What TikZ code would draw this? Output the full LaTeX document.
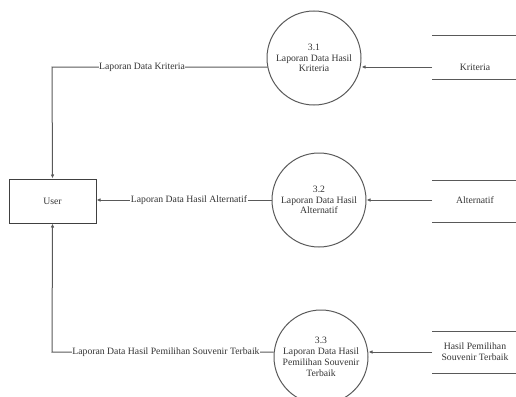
\documentclass[tikz,border=0pt]{standalone}
\usepackage{fontspec}
\setmainfont{Liberation Serif}
\usetikzlibrary{arrows.meta}
\begin{document}
\begin{tikzpicture}[x=1pt,y=-1pt,
  every node/.style={font=\fontsize{9.7}{10.8}\selectfont, text=black!80},
  proc/.style={circle, draw=black!65, line width=1pt, minimum size=94pt, inner sep=0pt, align=center},
  ent/.style={rectangle, draw=black!75, line width=1pt, minimum width=87pt, minimum height=44pt},
  flow/.style={draw=black!65, line width=1pt, -{Latex[length=4pt,width=3.5pt]}},
  lbl/.style={fill=white, inner sep=0.5pt},
  storeline/.style={draw=black!65, line width=1pt}]
\useasboundingbox (0,0) rectangle (516,396);
\begin{scope}
\clip (0,0) rectangle (516,396);
\node[ent] (user) at (52.5,201) {User};
\node[proc] (p1) at (314,58) {3.1\\Laporan Data Hasil\\Kriteria};
\node[proc] (p2) at (319,200) {3.2\\Laporan Data Hasil\\Alternatif};
\node[proc] (p3) at (321,357) {3.3\\Laporan Data Hasil\\Pemilihan Souvenir\\Terbaik};
% data stores
\coordinate (s1a) at (432,36); \coordinate (s1b) at (516,36);
\coordinate (s1c) at (432,79); \coordinate (s1d) at (516,79);
\draw[storeline] (s1a) -- (s1b) (s1c) -- (s1d);
\node (s1) at (475,67) {Kriteria};
\coordinate (s1in) at (432,67);
\coordinate (s2a) at (432,180); \coordinate (s2b) at (516,180);
\coordinate (s2c) at (432,222); \coordinate (s2d) at (516,222);
\draw[storeline] (s2a) -- (s2b) (s2c) -- (s2d);
\node (s2) at (475,200) {Alternatif};
\coordinate (s2in) at (432,200);
\coordinate (s3a) at (432,331); \coordinate (s3b) at (516,331);
\coordinate (s3c) at (432,373); \coordinate (s3d) at (516,373);
\draw[storeline] (s3a) -- (s3b) (s3c) -- (s3d);
\node[align=center] (s3) at (475,352) {Hasil Pemilihan\\Souvenir Terbaik};
\coordinate (s3in) at (432,352);
% flows store -> process
\draw[flow] (s1in) -- (p1.east |- s1in);
\draw[flow] (s2in) -- (p2.east |- s2in);
\draw[flow] (s3in) -- (p3.east |- s3in);
% flows process -> user
\coordinate (c1) at (52,67);
\coordinate (c3) at (52,352);
\draw[flow] (p1.west |- c1) ++(1,0) -- (c1) -- (user.north);
\node[lbl] at (142,67) {Laporan Data Kriteria};
\draw[flow] (p2.west) -- (user.east |- p2.west);
\node[lbl] at (189,200) {Laporan Data Hasil Alternatif};
\draw[flow] (p3.west |- c3) -- (c3) -- (user.south);
\node[lbl] at (166,352) {Laporan Data Hasil Pemilihan Souvenir Terbaik};
\end{scope}
\end{tikzpicture}
\end{document}
